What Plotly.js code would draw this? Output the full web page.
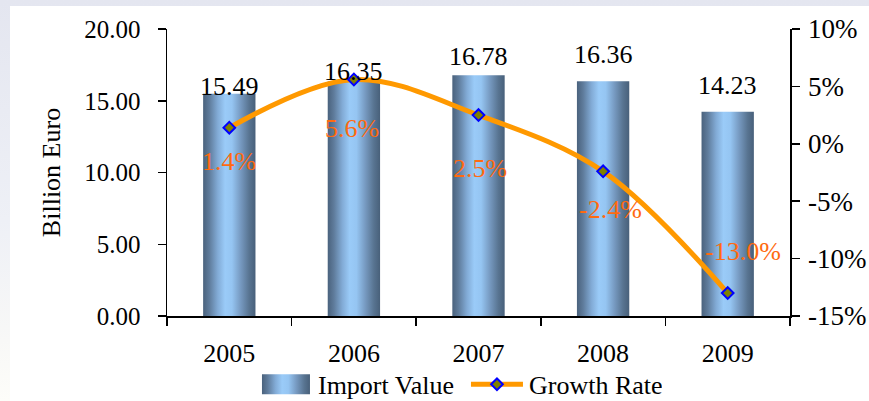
<!DOCTYPE html>
<html>
<head>
<meta charset="utf-8">
<script src="https://cdn.plot.ly/plotly-3.0.1.min.js"></script>
<style>
  html, body { margin: 0; padding: 0; }
  body {
    width: 869px; height: 401px; overflow: hidden;
    background: linear-gradient(to bottom, #e4e6f0 0%, #eef0f6 55%, #f8f8f7 85%, #fdfdf9 100%);
    position: relative;
  }
  #chart { position: absolute; left: 10px; top: 6px; width: 859px; height: 395px; }
</style>
</head>
<body>
<div id="chart"></div>
<script>
// Annual import value (billion euro) and its year-on-year growth rate (%)
const years = ['2005', '2006', '2007', '2008', '2009'];
const importValue = [15.49, 16.35, 16.78, 16.36, 14.23];
const growthRate = [1.4, 5.6, 2.5, -2.4, -13.0];

// Right-hand axis ticks, written with a plain hyphen for negatives
const rateTicks = [-15, -10, -5, 0, 5, 10];
const rateTickText = ['-15%', '-10%', '-5%', '0%', '5%', '10%'];

// Label nudges (pixels) so text sits clear of the curve
const valueLabelLift = [7, 10, 19, 27, 26];
const rateLabelShiftX = [0, -2, 1, 7, 15];
const rateLabelShiftY = [-34, -49, -53, -38, 42];

const FONT = 'Liberation Serif, Times New Roman, serif';

const bars = {
  type: 'bar',
  name: 'Import Value',
  x: years,
  y: importValue,
  width: 0.42,
  marker: { color: '#7fa8d4', line: { width: 0 } },
  hoverinfo: 'skip'
};

const rate = {
  type: 'scatter',
  mode: 'lines+markers',
  name: 'Growth Rate',
  x: years,
  y: growthRate,
  yaxis: 'y2',
  line: { color: '#ff9900', width: 5, shape: 'spline', smoothing: 1 },
  marker: { symbol: 'diamond', size: 9, color: '#808000', line: { color: '#0000ff', width: 2 } },
  hoverinfo: 'skip'
};

// Category axes take the position index for annotations
const annotations = [];
years.forEach((yr, i) => {
  annotations.push({
    xref: 'x', yref: 'y', x: i, y: importValue[i],
    text: importValue[i].toFixed(2),
    showarrow: false, yanchor: 'middle', yshift: valueLabelLift[i],
    font: { family: FONT, size: 26, color: '#000000' }
  });
  annotations.push({
    xref: 'x', yref: 'y2', x: i, y: growthRate[i],
    text: growthRate[i].toFixed(1) + '%',
    showarrow: false, yanchor: 'middle',
    xshift: rateLabelShiftX[i], yshift: rateLabelShiftY[i],
    font: { family: FONT, size: 26, color: '#ff6a10' }
  });
});

const axisCommon = {
  showline: true, linecolor: '#000000', linewidth: 1.5,
  ticks: 'outside', ticklen: 8, tickwidth: 1.5, tickcolor: '#000000',
  showgrid: false, zeroline: false, fixedrange: true, automargin: false
};

const layout = {
  width: 859, height: 395,
  margin: { l: 157, r: 79, t: 23, b: 85 },
  paper_bgcolor: '#ffffff',
  plot_bgcolor: 'rgba(0,0,0,0)',
  font: { family: FONT, color: '#000000' },
  showlegend: true,
  legend: {
    orientation: 'h', xref: 'paper', x: 0.1396, xanchor: 'left',
    yref: 'container', y: 0.042, yanchor: 'middle',
    font: { family: FONT, size: 26 }, itemwidth: 54, traceorder: 'normal',
    bgcolor: 'rgba(0,0,0,0)', borderwidth: 0
  },
  xaxis: Object.assign({}, axisCommon, {
    type: 'category', range: [-0.5, 4.5], autorange: false, tickson: 'boundaries',
    tickangle: 0, tickfont: { family: FONT, size: 26 }, ticklabelstandoff: 13
  }),
  yaxis: Object.assign({}, axisCommon, {
    range: [0, 20], autorange: false, dtick: 5, tickformat: '.2f',
    tickfont: { family: FONT, size: 25 }, ticklabelstandoff: 12,
    title: { text: 'Billion Euro', font: { family: FONT, size: 26 }, standoff: 16 }
  }),
  yaxis2: Object.assign({}, axisCommon, {
    overlaying: 'y', side: 'right', range: [-15, 10], autorange: false,
    tickmode: 'array', tickvals: rateTicks, ticktext: rateTickText,
    tickfont: { family: FONT, size: 27 }, ticklabelstandoff: 3
  }),
  annotations: annotations
};

Plotly.newPlot('chart', [bars, rate], layout, { staticPlot: true, displayModeBar: false })
  .then(gd => {
    // Cylinder-style horizontal shading for the bars and their legend swatch
    const svgNS = 'http://www.w3.org/2000/svg';
    const svg = gd.querySelector('svg.main-svg');
    let defs = svg.querySelector('defs');
    if (!defs) { defs = document.createElementNS(svgNS, 'defs'); svg.insertBefore(defs, svg.firstChild); }
    const grad = document.createElementNS(svgNS, 'linearGradient');
    grad.setAttribute('id', 'cylinderFill');
    grad.setAttribute('x1', '0'); grad.setAttribute('y1', '0');
    grad.setAttribute('x2', '1'); grad.setAttribute('y2', '0');
    [
      [0, '#4a627d'], [0.12, '#5f7c9c'], [0.28, '#82abd6'], [0.42, '#9acbf8'],
      [0.55, '#95c5f2'], [0.72, '#7699c0'], [0.88, '#587491'], [1, '#48607a']
    ].forEach(([o, c]) => {
      const s = document.createElementNS(svgNS, 'stop');
      s.setAttribute('offset', o);
      s.setAttribute('stop-color', c);
      grad.appendChild(s);
    });
    defs.appendChild(grad);
    gd.querySelectorAll('.barlayer .point path').forEach(p => { p.style.fill = 'url(#cylinderFill)'; });

    const legendItems = gd.querySelectorAll('.legend .traces');
    if (legendItems[0]) {
      legendItems[0].querySelectorAll('.legendpoints path').forEach(p => {
        p.style.fill = 'url(#cylinderFill)';
        p.setAttribute('d', 'M-24,-10H24V10H-24Z');
      });
    }
    if (legendItems[1]) {
      const item = legendItems[1];
      // a little more room between the two legend entries
      const tm = /translate\(\s*([-\d.]+)[ ,]+([-\d.]+)/.exec(item.getAttribute('transform') || '');
      if (tm) item.setAttribute('transform', 'translate(' + (parseFloat(tm[1]) + 6) + ',' + tm[2] + ')');
      // widen the line sample and centre it on its marker
      const pt = item.querySelector('.legendpoints path');
      if (pt) {
        const r = pt.getBoundingClientRect();
        const cxScreen = r.left + r.width / 2;
        item.querySelectorAll('.legendlines path').forEach(p => {
          const ctm = p.parentNode.getScreenCTM();
          const cx = (cxScreen - ctm.e) / ctm.a;
          p.setAttribute('d', 'M' + (cx - 26) + ',0h52');
        });
      }
    }
  });
</script>
</body>
</html>
